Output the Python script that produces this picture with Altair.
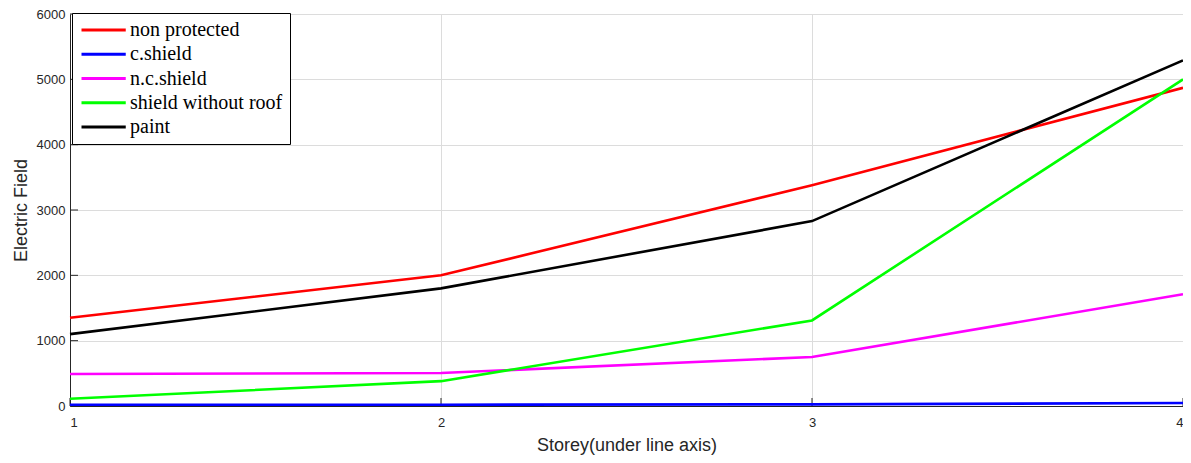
import altair as alt
import pandas as pd

storeys = [1, 2, 3, 4]
series_names = ["non protected", "c.shield", "n.c.shield", "shield without roof", "paint"]
non_protected = [1350, 2000, 3380, 4870]
c_shield = [20, 20, 25, 45]
nc_shield = [490, 505, 750, 1710]
shield_without_roof = [110, 380, 1310, 5000]
paint = [1100, 1800, 2830, 5290]
colors = ["#ff0000", "#0000ff", "#ff00ff", "#00ff00", "#000000"]
y_ticks = [0, 1000, 2000, 3000, 4000, 5000, 6000]
x_ticks = [1, 2, 3, 4]

values = [non_protected, c_shield, nc_shield, shield_without_roof, paint]
rows = []
for name, vals in zip(series_names, values):
    for s, v in zip(storeys, vals):
        rows.append({"storey": s, "field": v, "series": name})
df = pd.DataFrame(rows)

W, H = 1113, 392

xscale = alt.Scale(domain=[1, 4], nice=False, zero=False)
yscale = alt.Scale(domain=[0, 6000], nice=False)

lines = alt.Chart(df).mark_line(strokeWidth=2.6).encode(
    x=alt.X("storey:Q", scale=xscale,
            axis=alt.Axis(values=x_ticks, format="d", title="Storey(under line axis)",
                          tickSize=0, labelPadding=10, labelFontSize=13,
                          labelFont="Liberation Sans", labelColor="#262626",
                          titleFont="Liberation Sans", titleFontSize=18,
                          titleFontWeight="normal", titleColor="#262626",
                          titlePadding=7, domainColor="#262626",
                          gridColor="#dcdcdc")),
    y=alt.Y("field:Q", scale=yscale,
            axis=alt.Axis(values=y_ticks, format="d", title="Electric Field", tickSize=0,
                          labelPadding=5, labelFontSize=13,
                          labelFont="Liberation Sans", labelColor="#262626",
                          titleFont="Liberation Sans", titleFontSize=18,
                          titleFontWeight="normal", titleColor="#262626",
                          titlePadding=6, domainColor="#262626",
                          gridColor="#dcdcdc")),
    color=alt.Color("series:N",
                    scale=alt.Scale(domain=series_names, range=colors),
                    sort=series_names,
                    legend=alt.Legend(title=None, orient="none", legendX=2, legendY=-1,
                                      symbolType="M-1,0H4.9", symbolSize=225,
                                      symbolStrokeWidth=3,
                                      labelFont="Liberation Serif", labelFontSize=20,
                                      labelColor="#000000", labelLimit=300,
                                      strokeColor="#000000", fillColor="#ffffff",
                                      padding=7, rowPadding=4.25, labelOffset=31,
                                      cornerRadius=0)),
)

yt = pd.DataFrame({"v": y_ticks})
xt = pd.DataFrame({"v": x_ticks})
ytick_rules = alt.Chart(yt).mark_rule(color="#262626", strokeWidth=1).encode(
    y=alt.Y("v:Q", scale=yscale), x=alt.value(0), x2=alt.value(8))
xtick_rules = alt.Chart(xt).mark_rule(color="#262626", strokeWidth=1).encode(
    x=alt.X("v:Q", scale=xscale), y=alt.value(H), y2=alt.value(H - 8))

chart = alt.layer(ytick_rules, xtick_rules, lines).properties(
    width=W, height=H,
    autosize=alt.AutoSizeParams(type="none"),
    padding={"left": 62, "top": 6, "right": 0, "bottom": 50},
).configure_view(stroke="#d0d0d0").configure(background="white")

chart.save("out.html", embed_options={"renderer": "svg", "actions": False})
